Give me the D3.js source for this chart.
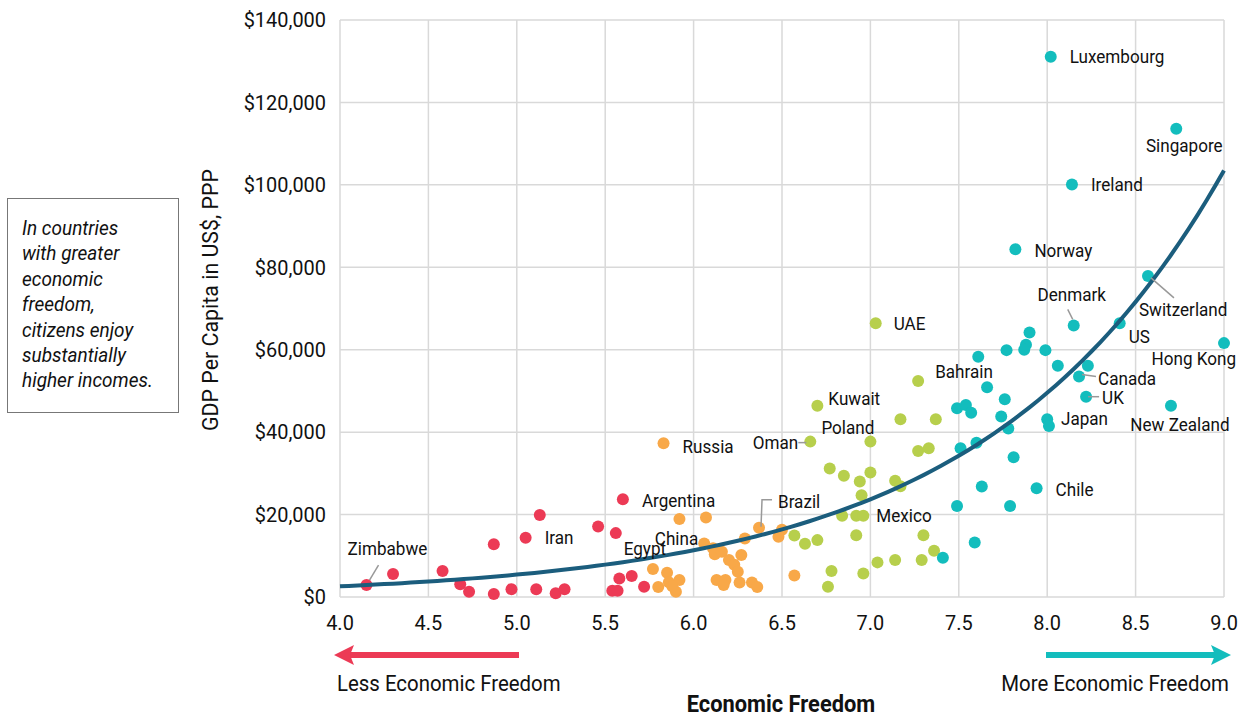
<!DOCTYPE html>
<html>
<head>
<meta charset="utf-8">
<script src="https://cdn.jsdelivr.net/npm/d3@7"></script>
<style>
  body { margin: 0; background: #fff; }
  svg text { font-family: Roboto, "Noto Sans", sans-serif; fill: #111; }
</style>
</head>
<body>
<div id="chart"></div>
<script>
// economic freedom score (x), GDP per capita PPP in thousand US$ (y), quartile (0 least free .. 3 most free)
var freedom = [
  4.15, 4.30, 4.58, 4.68, 4.73, 4.87, 4.87, 4.97, 5.05, 5.13, 5.11, 5.22, 5.27, 5.46, 5.56, 5.54, 5.57, 5.58, 5.65, 5.72, 5.60,
  5.83, 5.92, 6.07, 5.77, 5.85, 5.80, 5.86, 5.92, 5.90, 6.06, 6.11, 6.12, 6.16, 6.20, 6.27, 6.29, 6.23, 6.25, 6.13, 6.18,
  6.17, 6.26, 6.33, 6.36, 6.37, 6.50, 6.48, 6.57, 5.88,
  6.57, 6.63, 6.70, 6.70, 6.66, 7.00, 6.77, 6.85, 6.94, 7.00, 6.95, 7.14, 7.17, 6.84, 6.92, 6.96, 6.92, 6.78, 6.76, 6.96,
  7.04, 7.14, 7.29, 7.36, 7.30, 7.27, 7.33, 7.17, 7.37, 7.27, 7.03,
  7.41, 7.59, 7.49, 7.63, 7.51, 7.60, 7.49, 7.54, 7.57, 7.66, 7.61, 7.77, 7.76, 7.74, 7.78, 7.82, 8.57, 8.15, 8.41, 9.00,
  7.90, 7.88, 7.87, 7.99, 8.06, 8.23, 8.18, 8.22, 8.70, 8.00, 8.01, 7.81, 7.94, 7.79, 8.02, 8.73, 8.14
];
var gdp = [
  2.9, 5.6, 6.3, 3.1, 1.3, 12.8, 0.7, 1.9, 14.4, 19.9, 1.9, 0.9, 1.9, 17.1, 15.5, 1.5, 1.5, 4.5, 5.1, 2.5, 23.7,
  37.3, 18.9, 19.3, 6.8, 5.9, 2.4, 3.6, 4.1, 1.3, 13.0, 11.8, 10.4, 11.0, 9.0, 10.2, 14.2, 7.8, 6.1, 4.1, 4.1,
  2.9, 3.5, 3.5, 2.4, 16.8, 16.3, 14.6, 5.2, 2.6,
  14.9, 12.9, 13.8, 46.4, 37.7, 37.7, 31.2, 29.4, 28.0, 30.2, 24.7, 28.2, 26.9, 19.7, 19.7, 19.7, 15.0, 6.3, 2.5, 5.7,
  8.4, 9.0, 9.0, 11.2, 15.0, 35.4, 36.1, 43.1, 43.1, 52.4, 66.4,
  9.5, 13.2, 22.1, 26.8, 36.1, 37.4, 45.8, 46.6, 44.7, 50.9, 58.3, 59.9, 48.0, 43.8, 40.9, 84.4, 77.9, 65.9, 66.4, 61.6,
  64.2, 61.2, 60.0, 59.9, 56.1, 56.1, 53.5, 48.6, 46.4, 43.1, 41.5, 33.9, 26.4, 22.1, 131.1, 113.6, 100.1
];
var quartile = [
  0, 0, 0, 0, 0, 0, 0, 0, 0, 0, 0, 0, 0, 0, 0, 0, 0, 0, 0, 0, 0,
  1, 1, 1, 1, 1, 1, 1, 1, 1, 1, 1, 1, 1, 1, 1, 1, 1, 1, 1, 1,
  1, 1, 1, 1, 1, 1, 1, 1, 1,
  2, 2, 2, 2, 2, 2, 2, 2, 2, 2, 2, 2, 2, 2, 2, 2, 2, 2, 2, 2,
  2, 2, 2, 2, 2, 2, 2, 2, 2, 2, 2,
  3, 3, 3, 3, 3, 3, 3, 3, 3, 3, 3, 3, 3, 3, 3, 3, 3, 3, 3, 3,
  3, 3, 3, 3, 3, 3, 3, 3, 3, 3, 3, 3, 3, 3, 3, 3, 3
];
var countryNames = [
  "Zimbabwe", "", "", "", "", "", "", "", "Iran", "", "", "", "", "", "", "", "", "", "Egypt", "", "Argentina",
  "Russia", "", "", "", "", "", "", "", "", "China", "", "", "", "", "", "", "", "", "", "",
  "", "", "", "", "Brazil", "", "", "", "",
  "", "", "", "Kuwait", "Oman", "Poland", "", "", "", "", "", "", "", "", "", "Mexico", "", "", "", "",
  "", "", "", "", "", "", "", "", "", "Bahrain", "UAE",
  "", "", "", "", "", "", "", "", "", "", "", "", "", "", "", "Norway", "Switzerland", "Denmark", "US", "Hong Kong",
  "", "", "", "", "", "", "Canada", "UK", "New Zealand", "", "Japan", "", "Chile", "", "Luxembourg", "Singapore", "Ireland"
];
// exponential trend line as drawn in the chart: value at freedom 4.0 and at 9.0
var trendFreedom = [4.0, 9.0];
var trendGdp = [2600, 103500];

var xTicks = [4.0, 4.5, 5.0, 5.5, 6.0, 6.5, 7.0, 7.5, 8.0, 8.5, 9.0];
var yTicks = [0, 20000, 40000, 60000, 80000, 100000, 120000, 140000];
var noteLines = ["In countries", "with greater", "economic", "freedom,", "citizens enjoy", "substantially", "higher incomes."];

var quartileColors = ["#EC3A55", "#F8A848", "#B7CF4C", "#13BDBD"];
var trendColor = "#1B5D7D";

// label placement relative to the dot
var labelLayout = {
  "Luxembourg": {dx: 19, dy: 0, anchor: "start"},
  "Singapore": {dx: 8, dy: 17, anchor: "middle"},
  "Ireland": {dx: 19, dy: 0, anchor: "start"},
  "Norway": {dx: 19, dy: 2, anchor: "start"},
  "Denmark": {dx: -2, dy: -31, anchor: "middle", leader: [[-6, -16], [-1, -6]]},
  "Switzerland": {dx: -9, dy: 34, anchor: "start", leader: [[3, 2], [26, 22]]},
  "US": {dx: 9, dy: 13, anchor: "start"},
  "Hong Kong": {dx: 12, dy: 16, anchor: "end"},
  "Canada": {dx: 19, dy: 2, anchor: "start", leader: [[3, -2], [17, 0]]},
  "UK": {dx: 16, dy: 1, anchor: "start", leader: [[2, 0], [13, 0]]},
  "Japan": {dx: 12, dy: -7, anchor: "start"},
  "New Zealand": {dx: 9, dy: 19, anchor: "middle"},
  "Chile": {dx: 19, dy: 1, anchor: "start"},
  "UAE": {dx: 18, dy: 0, anchor: "start"},
  "Bahrain": {dx: 17, dy: -9, anchor: "start"},
  "Kuwait": {dx: 11, dy: -7, anchor: "start"},
  "Poland": {dx: 4, dy: -14, anchor: "end"},
  "Oman": {dx: -12, dy: 1, anchor: "end", leader: [[-12, 1], [-4, 1]]},
  "Mexico": {dx: 13, dy: 0, anchor: "start"},
  "Brazil": {dx: 19, dy: -26, anchor: "start", leader: [[2, -1], [3, -28], [13, -28]]},
  "Russia": {dx: 19, dy: 3, anchor: "start"},
  "Argentina": {dx: 19, dy: 1, anchor: "start"},
  "China": {dx: -6, dy: -5, anchor: "end"},
  "Egypt": {dx: -8, dy: -27, anchor: "start"},
  "Iran": {dx: 19, dy: 0, anchor: "start"},
  "Zimbabwe": {dx: -19, dy: -36, anchor: "start", leader: [[12, -20], [3, -5]]}
};

var W = 1258, H = 719;
var margin = {left: 340, right: 34, top: 20, bottom: 122};
var width = W - margin.left - margin.right,
    height = H - margin.top - margin.bottom;
var squeeze = 0.95;   // slightly narrow face like the original

var svg = d3.select("#chart").append("svg")
    .attr("width", W)
    .attr("height", H);

var g = svg.append("g")
    .attr("transform", "translate(" + margin.left + "," + margin.top + ")");

var x = d3.scaleLinear().domain([4, 9]).range([0, width]);
var y = d3.scaleLinear().domain([0, 140000]).range([height, 0]);

function ctext(sel, px, py, str, size, anchor) {
  return sel.append("text")
      .attr("transform", "translate(" + px + "," + py + ") scale(" + squeeze + ",1)")
      .attr("dy", "0.35em")
      .attr("text-anchor", anchor || "start")
      .style("font-size", size + "px")
      .text(str);
}

// grid
g.append("g").selectAll("line.v")
    .data(xTicks).enter().append("line")
    .attr("x1", d => x(d)).attr("x2", d => x(d))
    .attr("y1", 0).attr("y2", height)
    .attr("stroke", "#d9d9d9").attr("stroke-width", 1.5);
g.append("g").selectAll("line.h")
    .data(yTicks).enter().append("line")
    .attr("x1", 0).attr("x2", width)
    .attr("y1", d => y(d)).attr("y2", d => y(d))
    .attr("stroke", "#d9d9d9").attr("stroke-width", 1.5);

// tick labels
var fmt = d3.format("$,");
yTicks.forEach(function (t) { ctext(g, -14, y(t), fmt(t), 21, "end"); });
xTicks.forEach(function (t) { ctext(g, x(t), height + 26, d3.format(".1f")(t), 21, "middle"); });

// points
var pts = freedom.map(function (f, i) {
  return {f: f, v: gdp[i] * 1000, q: quartile[i], name: countryNames[i]};
});
g.append("g").selectAll("circle")
    .data(pts).enter().append("circle")
    .attr("cx", d => x(d.f))
    .attr("cy", d => y(d.v))
    .attr("r", 6)
    .attr("fill", d => quartileColors[d.q]);

// exponential trend through the two read-off values
var rate = Math.log(trendGdp[1] / trendGdp[0]) / (trendFreedom[1] - trendFreedom[0]);
var trend = d3.range(trendFreedom[0], trendFreedom[1] + 1e-6, 0.05)
    .map(f => [f, trendGdp[0] * Math.exp(rate * (f - trendFreedom[0]))]);
g.append("path")
    .datum(trend)
    .attr("fill", "none")
    .attr("stroke", trendColor)
    .attr("stroke-width", 4)
    .attr("d", d3.line().x(d => x(d[0])).y(d => y(d[1])));

// country labels
pts.filter(d => d.name).forEach(function (d) {
  var L = labelLayout[d.name], cx = x(d.f), cy = y(d.v);
  if (L.leader) {
    g.append("polyline")
        .attr("points", L.leader.map(p => (cx + p[0]) + "," + (cy + p[1])).join(" "))
        .attr("fill", "none").attr("stroke", "#999").attr("stroke-width", 1.5);
  }
  ctext(g, cx + L.dx, cy + L.dy, d.name, 18, L.anchor);
});

// axis titles
ctext(svg, 0, 0, "GDP Per Capita in US$, PPP", 22.5, "middle")
    .attr("transform", "translate(210,300) rotate(-90) scale(" + squeeze + ",1)");
ctext(svg, 781, 704, "Economic Freedom", 23, "middle").style("font-weight", "bold");

// direction arrows
function arrow(x0, x1, yy, col) {
  var dir = x1 > x0 ? 1 : -1;
  svg.append("line")
      .attr("x1", x0).attr("x2", x1 - dir * 16)
      .attr("y1", yy).attr("y2", yy)
      .attr("stroke", col).attr("stroke-width", 6);
  svg.append("path")
      .attr("d", "M" + x1 + "," + yy + "L" + (x1 - dir * 20) + "," + (yy - 10) +
                 "L" + (x1 - dir * 16) + "," + yy + "L" + (x1 - dir * 20) + "," + (yy + 10) + "Z")
      .attr("fill", col);
}
arrow(519, 334, 655, quartileColors[0]);
arrow(1046, 1231, 655, quartileColors[3]);
ctext(svg, 337, 683, "Less Economic Freedom", 21.5, "start");
ctext(svg, 1229, 683, "More Economic Freedom", 21.5, "end");

// side note
svg.append("rect")
    .attr("x", 7.5).attr("y", 198.5).attr("width", 171).attr("height", 214)
    .attr("fill", "none").attr("stroke", "#777").attr("stroke-width", 1);
noteLines.forEach(function (s, i) {
  ctext(svg, 22, 228 + i * 25.4, s, 20, "start").style("font-style", "italic");
});
</script>
</body>
</html>
